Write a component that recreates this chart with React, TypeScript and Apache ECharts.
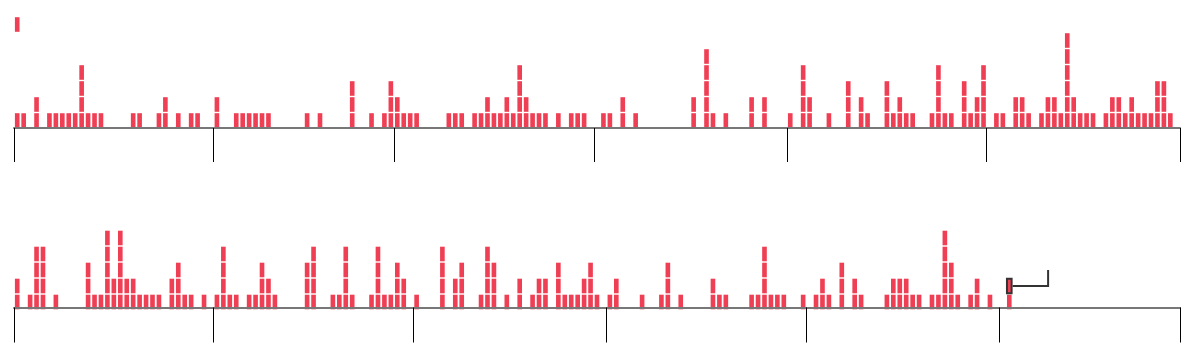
import React, { useEffect, useRef } from "react";
import * as echarts from "echarts";

// First half of the year (Jan 1 – Jun 30) and second half (Jul 1 – Dec 28)
const TOP_START = "2023-01-01";
const TOP_DAYS = 181;
const BOTTOM_START = "2023-07-01";
const BOTTOM_DAYS = 181;

// Units per day, top row
const topCounts = [
  1, 1, 0, 2, 0, 1, 1, 1, 1, 1,
  4, 1, 1, 1, 0, 0, 0, 0, 1, 1,
  0, 0, 1, 2, 0, 1, 0, 1, 1, 0,
  0, 2, 0, 0, 1, 1, 1, 1, 1, 1,
  0, 0, 0, 0, 0, 1, 0, 1, 0, 0,
  0, 0, 3, 0, 0, 1, 0, 1, 3, 2,
  1, 1, 1, 0, 0, 0, 0, 1, 1, 1,
  0, 1, 1, 2, 1, 1, 2, 1, 4, 2,
  1, 1, 1, 0, 1, 0, 1, 1, 1, 0,
  0, 1, 1, 0, 2, 0, 1, 0, 0, 0,
  0, 0, 0, 0, 0, 2, 0, 5, 1, 0,
  1, 0, 0, 0, 2, 0, 2, 0, 0, 0,
  1, 0, 4, 2, 0, 0, 1, 0, 0, 3,
  0, 2, 1, 0, 0, 3, 1, 2, 1, 1,
  0, 0, 1, 4, 1, 1, 0, 3, 1, 2,
  4, 0, 1, 1, 0, 2, 2, 1, 0, 1,
  2, 2, 1, 6, 2, 1, 1, 1, 0, 1,
  2, 2, 1, 2, 1, 1, 1, 3, 3, 1,
  0,
];

// Units per day, bottom row
const bottomCounts = [
  2, 0, 1, 4, 4, 0, 1, 0, 0, 0,
  0, 3, 1, 1, 5, 2, 5, 2, 2, 1,
  1, 1, 1, 0, 2, 3, 1, 1, 0, 1,
  0, 1, 4, 1, 1, 0, 1, 1, 3, 2,
  1, 0, 0, 0, 0, 3, 4, 0, 0, 1,
  1, 4, 1, 0, 0, 1, 4, 1, 1, 3,
  2, 0, 1, 0, 0, 0, 4, 0, 2, 3,
  0, 0, 1, 4, 3, 0, 1, 0, 2, 0,
  1, 2, 2, 0, 3, 1, 1, 1, 2, 3,
  1, 0, 1, 2, 0, 0, 0, 1, 0, 0,
  1, 3, 0, 1, 0, 0, 0, 0, 2, 1,
  1, 0, 0, 0, 1, 1, 4, 1, 1, 1,
  0, 0, 1, 0, 1, 2, 1, 0, 3, 0,
  2, 1, 0, 0, 0, 1, 2, 2, 2, 1,
  1, 0, 1, 1, 5, 3, 1, 0, 1, 2,
  0, 1, 0, 0, 2, 0, 0, 0, 0, 0,
  0, 0, 0, 0, 0, 0, 0, 0, 0, 0,
  0, 0, 0, 0, 0, 0, 0, 0, 0, 0,
  0,
];

// A lone unit floating at [day, level] in the top row
const topFloatingUnits = [[0, 7]];
// The selected unit [day, level] in the bottom row
const bottomSelected = [[154, 2]];

const Y_MAX = 7;
const BAR_COLOR = "#ef3f54";

function dayLabels(start: string, n: number): string[] {
  const d0 = new Date(start + "T00:00:00Z").getTime();
  const out: string[] = [];
  for (let i = 0; i < n; i++) {
    out.push(new Date(d0 + i * 86400000).toISOString().slice(0, 10));
  }
  return out;
}

const topDays = dayLabels(TOP_START, TOP_DAYS);
const bottomDays = dayLabels(BOTTOM_START, BOTTOM_DAYS);

const unitGeom = (api: any, x: number, k: number) => {
  const top = api.coord([x, k]);
  const bottom = api.coord([x, k - 1]);
  const band = api.size([1, 0])[0];
  const w = band * 0.72;
  return { x: top[0] - w / 2, y: top[1] + 1.2, width: w, height: bottom[1] - top[1] - 1.4 };
};

const renderUnits = (_params: any, api: any) => {
  const x = api.value(0);
  const hi = api.value(1);
  const lo = api.value(2);
  const children: any[] = [];
  for (let k = lo; k <= hi; k++) {
    children.push({ type: "rect", shape: unitGeom(api, x, k), style: { fill: BAR_COLOR } });
  }
  return { type: "group", children };
};

const renderSelected = (_params: any, api: any) => {
  const x = api.value(0);
  const level = api.value(1);
  const g = unitGeom(api, x, level);
  const midY = g.y + g.height / 2;
  const right = g.x + g.width;
  return {
    type: "group",
    children: [
      { type: "rect", shape: g, style: { fill: BAR_COLOR, stroke: "#333", lineWidth: 2 } },
      {
        type: "polyline",
        shape: { points: [[right + 1, midY], [right + 36.5, midY], [right + 36.5, midY - 16]] },
        style: { stroke: "#333", lineWidth: 2, fill: null },
      },
    ],
  };
};

const stackData = (counts: number[]) =>
  counts.map((c, i) => [i, c, 1]).filter((d) => d[1] > 0);

const monthTick = (_i: number, v: string) => v.slice(8, 10) === "01";

const xAxisBase = (gridIndex: number, data: string[], offset: number, tickLen: number) => ({
  type: "category",
  gridIndex,
  data,
  boundaryGap: true,
  offset,
  z: 5,
  axisLine: { onZero: false, lineStyle: { color: "#777", width: 2 } },
  axisTick: { show: true, interval: monthTick, length: tickLen, lineStyle: { color: "#000", width: 1 } },
  axisLabel: { show: false },
  splitLine: { show: false },
});

const yAxisBase = (gridIndex: number) => ({
  type: "value",
  gridIndex,
  min: 0,
  max: Y_MAX,
  show: false,
  splitLine: { show: false },
});

export default function App() {
  const ref = useRef<HTMLDivElement>(null);
  useEffect(() => {
    if (!ref.current) return;
    const chart = echarts.init(ref.current, undefined, { renderer: "svg" });
    chart.setOption({
      animation: false,
      grid: [
        { left: 14, right: 20, top: 16, height: 112 },
        { left: 14, right: 20, top: 197.5, height: 112 },
      ],
      xAxis: [xAxisBase(0, topDays, 0, 34), xAxisBase(1, bottomDays, -2, 35)],
      yAxis: [yAxisBase(0), yAxisBase(1)],
      series: [
        {
          type: "custom",
          name: "top",
          xAxisIndex: 0,
          yAxisIndex: 0,
          renderItem: renderUnits,
          encode: { x: 0, y: 1 },
          data: stackData(topCounts),
        },
        {
          type: "custom",
          name: "topFloating",
          xAxisIndex: 0,
          yAxisIndex: 0,
          renderItem: renderUnits,
          encode: { x: 0, y: 1 },
          data: topFloatingUnits.map((d) => [d[0], d[1], d[1]]),
        },
        {
          type: "custom",
          name: "bottom",
          xAxisIndex: 1,
          yAxisIndex: 1,
          renderItem: renderUnits,
          encode: { x: 0, y: 1 },
          data: stackData(bottomCounts),
        },
        {
          type: "custom",
          name: "selected",
          xAxisIndex: 1,
          yAxisIndex: 1,
          z: 10,
          renderItem: renderSelected,
          encode: { x: 0, y: 1 },
          data: bottomSelected,
        },
      ],
    });
    return () => chart.dispose();
  }, []);
  return (
    <div
      ref={ref}
      style={{ position: "fixed", left: 0, top: 0, width: 1200, height: 360 }}
    />
  );
}
